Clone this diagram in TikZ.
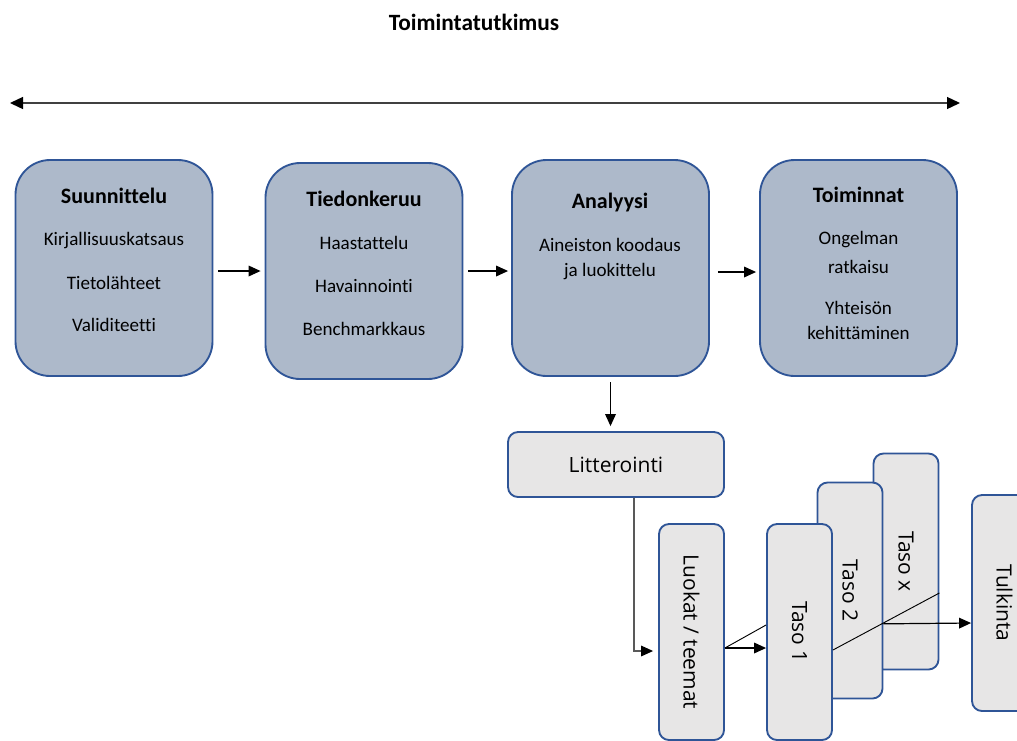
\documentclass[tikz,border=0pt]{standalone}
\usepackage{fontspec}
\setmainfont{Carlito}[Ligatures=NoCommon]
\newfontfamily\lowfont{Open Sans}[Ligatures=NoCommon]
\usetikzlibrary{arrows.meta,positioning}

\definecolor{phasefill}{HTML}{ADB9CA}
\definecolor{boxline}{HTML}{2F5597}
\definecolor{stepfill}{HTML}{E7E6E6}
\definecolor{elbowgray}{HTML}{595959}

\tikzset{
  phase/.style={draw=boxline, line width=1.4pt, fill=phasefill, rounded corners=26pt,
    minimum width=147.75pt, minimum height=162pt},
  phasehead/.style={font=\fontsize{16.5}{20}\selectfont\bfseries},
  item/.style={font=\fontsize{14.3}{17}\selectfont},
  stepbox/.style={draw=boxline, line width=1.4pt, fill=stepfill, rounded corners=7.5pt,
    inner sep=0pt, font=\lowfont\fontsize{15.75}{18}\selectfont},
  levelbox/.style={stepbox, minimum width=48.75pt, minimum height=162pt},
  flow/.style={-{Triangle[length=9pt,width=8pt,color=black]}, line width=0.9pt},
  slant/.style={line width=0.7pt}
}

\begin{document}
\begin{tikzpicture}[x=0.75pt,y=-0.75pt]
  \useasboundingbox (0,0) rectangle (1017,740);
  \clip (0,0) rectangle (1017,740);

  % Title
  \node[font=\fontsize{17.5}{20}\selectfont\bfseries] (title) at (474,22) {Toimintatutkimus};
  \coordinate (spanl) at (10,103);
  \coordinate (spanr) at (960,103);
  \draw[{Triangle[length=9.75pt,width=9pt,color=black]}-{Triangle[length=9.75pt,width=9pt,color=black]},
    line width=1pt, black!75] (spanl) -- (spanr);

  % Phases
  \node[phase] (plan) at (114,268) {};
  \node[phase] (collect) at (364,271) {};
  \node[phase] (analysis) at (610.5,268) {};
  \node[phase] (act) at (858.5,268) {};

  \node[phasehead] (planhead) at (114,196) {Suunnittelu};
  \node[item] (plan1) at (114,241) {Kirjallisuuskatsaus};
  \node[item] (plan2) at (114,283) {Tietolähteet};
  \node[item] (plan3) at (114,325) {Validiteetti};

  \node[phasehead] (collecthead) at (364,199) {Tiedonkeruu};
  \node[item] (collect1) at (364,243) {Haastattelu};
  \node[item] (collect2) at (364,286) {Havainnointi};
  \node[item] (collect3) at (364,329) {Benchmarkkaus};

  \node[phasehead] (analysishead) at (610,203) {Analyysi};
  \node[item] (analysis1) at (610,245) {Aineiston koodaus};
  \node[item] (analysis2) at (610,272) {ja luokittelu};

  \node[phasehead] (acthead) at (858.5,195) {Toiminnat};
  \node[item] (act1) at (858.5,240) {Ongelman};
  \node[item] (act2) at (858.5,267) {ratkaisu};
  \node[item] (act3) at (858.5,308) {Yhteisön};
  \node[item] (act4) at (858.5,333) {kehittäminen};

  \draw[flow, shorten <=3.75pt, shorten >=3pt] ([yshift=-2.25pt]plan.east) -- ([yshift=-2.25pt]plan.east -| collect.west);
  \draw[flow, shorten <=3.75pt, shorten >=2.25pt] ([yshift=-2.25pt]analysis.west -| collect.east) -- ([yshift=-2.25pt]analysis.west);
  \draw[flow, shorten <=6pt, shorten >=2.25pt] ([yshift=-3pt]analysis.east) -- ([yshift=-3pt]act.west);

  % Analysis details
  \node[stepbox, minimum width=162pt, minimum height=48.75pt] (litter) at (616,464.5) {Litterointi};
  \node[levelbox] (themes) at (691.5,632) {\rotatebox{-90}{Luokat / teemat}};
  \node[levelbox] (levelx) at (906,561.5) {\rotatebox{-90}{Taso x}};
  \node[levelbox] (level2) at (850,590.5) {\rotatebox{-90}{Taso 2}};
  \node[levelbox] (level1) at (799.5,632) {\rotatebox{-90}{Taso 1}};
  \node[levelbox] (interp) at (1004.5,603) {\rotatebox{-90}{Tulkinta}};

  \draw[flow, shorten <=4pt, shorten >=3.75pt] (analysis.south) -- (analysis.south |- litter.north);
  \draw[flow, elbowgray, line width=0.8pt, shorten >=3.75pt] ([xshift=13.5pt]litter.south) |- ([yshift=-14.25pt]themes.west);
  \draw[flow] ([yshift=-12pt]themes.east) -- ([yshift=-12pt]level1.west);
  \draw[slant] ([yshift=-12pt]themes.east) -- ([yshift=5.25pt]level1.west);
  \draw[slant] ([yshift=-13.5pt]level1.east) -- ([yshift=-23.6pt]levelx.east);
  \draw[flow] ([yshift=-25pt]level2.east) -- ([yshift=-15pt]interp.west);
\end{tikzpicture}
\end{document}
